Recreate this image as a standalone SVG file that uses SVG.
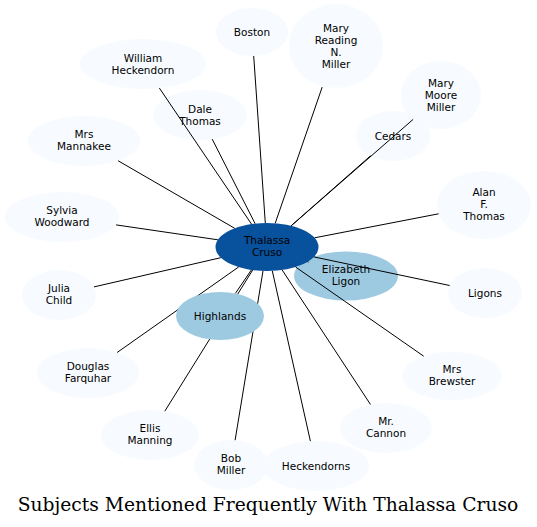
<svg xmlns="http://www.w3.org/2000/svg" width="537" height="527" viewBox="0 0 537 527">
<style>
.n{fill:#f7fbff;stroke:none}
.m{fill:#9ecae1;stroke:none}
.c{fill:#08519c;stroke:none}
text{font-family:"DejaVu Sans",sans-serif;font-size:10.5px;fill:#000;text-anchor:middle}
.e line{stroke:#000;stroke-width:1;fill:none}
.t{font-family:"DejaVu Serif",serif;font-size:18.7px}
</style>
<rect width="537" height="527" fill="#fff"/>
<g id="boston"><ellipse class="n" cx="252" cy="32" rx="36" ry="24"/><text x="252" y="36">Boston</text></g>
<g id="mary-reading-n-miller"><ellipse class="n" cx="336" cy="46" rx="47" ry="42"/><text x="336" y="32">Mary</text><text x="336" y="44">Reading</text><text x="336" y="56">N.</text><text x="336" y="68">Miller</text></g>
<g id="william-heckendorn"><ellipse class="n" cx="143" cy="64" rx="63" ry="25"/><text x="143" y="62">William</text><text x="143" y="74">Heckendorn</text></g>
<g id="mary-moore-miller"><ellipse class="n" cx="441" cy="95" rx="40" ry="34"/><text x="441" y="87">Mary</text><text x="441" y="99">Moore</text><text x="441" y="111">Miller</text></g>
<g id="dale-thomas"><ellipse class="n" cx="200" cy="115" rx="47" ry="25"/><text x="200" y="113">Dale</text><text x="200" y="125">Thomas</text></g>
<g id="cedars"><ellipse class="n" cx="393" cy="136" rx="37" ry="25"/><text x="393" y="140">Cedars</text></g>
<g id="mrs-mannakee"><ellipse class="n" cx="84" cy="141" rx="56" ry="25"/><text x="84" y="138">Mrs</text><text x="84" y="150">Mannakee</text></g>
<g id="alan-f-thomas"><ellipse class="n" cx="484" cy="205" rx="47" ry="34"/><text x="484" y="196">Alan</text><text x="484" y="208">F.</text><text x="484" y="220">Thomas</text></g>
<g id="sylvia-woodward"><ellipse class="n" cx="62" cy="217" rx="57" ry="25"/><text x="62" y="214">Sylvia</text><text x="62" y="226">Woodward</text></g>
<g id="ligons"><ellipse class="n" cx="485" cy="293" rx="37" ry="25"/><text x="485" y="297">Ligons</text></g>
<g id="julia-child"><ellipse class="n" cx="59" cy="295" rx="37" ry="25"/><text x="59" y="292">Julia</text><text x="59" y="304">Child</text></g>
<g id="douglas-farquhar"><ellipse class="n" cx="88" cy="373" rx="51" ry="25"/><text x="88" y="370">Douglas</text><text x="88" y="382">Farquhar</text></g>
<g id="mrs-brewster"><ellipse class="n" cx="452" cy="376" rx="50" ry="24"/><text x="452" y="373">Mrs</text><text x="452" y="385">Brewster</text></g>
<g id="mr-cannon"><ellipse class="n" cx="386" cy="428" rx="46" ry="25"/><text x="386" y="425">Mr.</text><text x="386" y="437">Cannon</text></g>
<g id="ellis-manning"><ellipse class="n" cx="150" cy="435" rx="49" ry="25"/><text x="150" y="432">Ellis</text><text x="150" y="444">Manning</text></g>
<g id="bob-miller"><ellipse class="n" cx="231" cy="465" rx="37" ry="25"/><text x="231" y="462">Bob</text><text x="231" y="474">Miller</text></g>
<g id="heckendorns"><ellipse class="n" cx="316" cy="466" rx="53" ry="25"/><text x="316" y="470">Heckendorns</text></g>
<g id="elizabeth-ligon"><ellipse class="m" cx="346" cy="276" rx="52" ry="24.5"/><text x="346" y="273">Elizabeth</text><text x="346" y="285">Ligon</text></g>
<g id="thalassa-cruso"><ellipse class="c" cx="267" cy="247" rx="51.5" ry="24"/><text x="267" y="244">Thalassa</text><text x="267" y="256">Cruso</text></g>
<g id="connectors" class="e">
<line x1="265.3" y1="223" x2="253.7" y2="56"/>
<line x1="275.2" y1="223.3" x2="322.2" y2="87.1"/>
<line x1="291.2" y1="225.8" x2="413.1" y2="119.4"/>
<line x1="291.1" y1="225.8" x2="370.5" y2="155.8"/>
<line x1="314.6" y1="237.8" x2="438.6" y2="213.8"/>
<line x1="313.9" y1="256.9" x2="449.7" y2="285.5"/>
<line x1="295.6" y1="267" x2="423.7" y2="356.2"/>
<line x1="282.1" y1="269.9" x2="370.5" y2="404.5"/>
<line x1="272.3" y1="270.9" x2="310.4" y2="441.1"/>
<line x1="263" y1="270.9" x2="235.1" y2="440.2"/>
<line x1="252.7" y1="270" x2="164.8" y2="411.2"/>
<line x1="251.4" y1="269.9" x2="235.3" y2="293.5"/>
<line x1="238.6" y1="267" x2="117.1" y2="352.5"/>
<line x1="220.8" y1="257.7" x2="94" y2="286.9"/>
<line x1="217.9" y1="239.8" x2="116.1" y2="224.9"/>
<line x1="234.7" y1="228.3" x2="118.2" y2="160.8"/>
<line x1="251.5" y1="224.1" x2="159.4" y2="88.1"/>
<line x1="255.1" y1="223.6" x2="212.2" y2="139.1"/>
<line x1="307.6" y1="261.7" x2="308.6" y2="262.1"/>
</g>
<g id="highlands"><ellipse class="m" cx="220" cy="316" rx="44" ry="24"/><text x="220" y="320">Highlands</text></g>
<text class="t" x="268" y="511">Subjects Mentioned Frequently With Thalassa Cruso</text>
</svg>
